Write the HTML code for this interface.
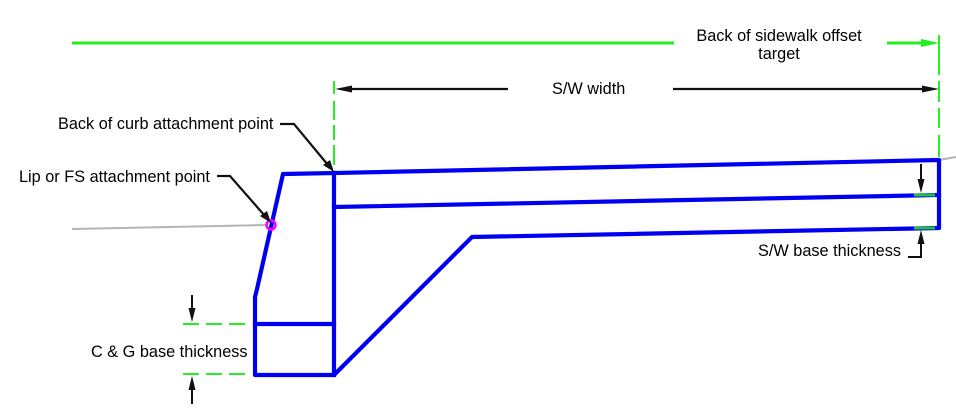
<!DOCTYPE html>
<html><head><meta charset="utf-8"><style>
html,body{margin:0;padding:0;background:#fff;}
svg{display:block;}
text{font-family:"Liberation Sans",Arial,sans-serif;font-size:16.3px;fill:#000;}
</style></head><body>
<svg width="956" height="411" viewBox="0 0 956 411" xmlns="http://www.w3.org/2000/svg">
<rect width="956" height="411" fill="#fff"/>
<!-- gray ground lines -->
<line x1="72" y1="229" x2="268" y2="225" stroke="#b4b4b4" stroke-width="2"/>
<line x1="939" y1="160" x2="956" y2="157" stroke="#b4b4b4" stroke-width="2"/>

<!-- green top dim line -->
<line x1="72" y1="43" x2="674" y2="43" stroke="#22f022" stroke-width="3"/>
<line x1="887" y1="43" x2="925" y2="43" stroke="#22f022" stroke-width="3"/>
<polygon points="921,39 939,43 921,47" fill="#22f022"/>
<!-- green dashed verticals -->
<line x1="939" y1="35" x2="939" y2="158" stroke="#22f022" stroke-width="2" stroke-dasharray="40,6,21,6,20,7,22,6"/>
<line x1="334" y1="81" x2="334" y2="170" stroke="#22f022" stroke-width="2" stroke-dasharray="13,7,19,5,15,5,20"/>

<!-- S/W width dimension -->
<line x1="345" y1="89" x2="508" y2="89" stroke="#111" stroke-width="2.2"/>
<polygon points="335,89 352,85.5 352,92.5" fill="#111"/>
<line x1="673" y1="89" x2="928" y2="89" stroke="#111" stroke-width="2.2"/>
<polygon points="939,89 922,85.5 922,92.5" fill="#111"/>
<text x="552" y="94">S/W width</text>

<text x="779" y="41" text-anchor="middle">Back of sidewalk offset</text>
<text x="779" y="59" text-anchor="middle">target</text>

<!-- blue shape -->
<g stroke="#0000f0" stroke-width="4.2" fill="none" stroke-linejoin="round" stroke-linecap="square">
<polyline points="334,173 283,174 257,289 255,297 255,375 334,375 472,237 939,228 939,160 334,173"/>
<line x1="334" y1="173" x2="334" y2="375"/>
<line x1="255" y1="324" x2="334" y2="324"/>
<line x1="334" y1="207" x2="939" y2="195"/>
</g>
<!-- green small ticks on right -->
<line x1="914" y1="195" x2="935" y2="195" stroke="#20c040" stroke-width="3"/>
<line x1="914" y1="228" x2="935" y2="228" stroke="#20c040" stroke-width="3"/>

<!-- magenta circle -->
<circle cx="271" cy="225" r="4.5" fill="none" stroke="#ff00ff" stroke-width="2.5"/>

<!-- Back of curb leader -->
<text x="58" y="129">Back of curb attachment point</text>
<polyline points="280,124 294,124 328,165" stroke="#111" stroke-width="2.2" fill="none"/>
<polygon points="334,172 323,165 330,160" fill="#111"/>

<!-- Lip leader -->
<text x="19" y="182">Lip or FS attachment point</text>
<polyline points="217,176 230,176 265,216" stroke="#111" stroke-width="2.2" fill="none"/>
<polygon points="271,223 260,216 267,211" fill="#111"/>

<!-- C & G base thickness -->
<line x1="183" y1="324" x2="252" y2="324" stroke="#22f022" stroke-width="2" stroke-dasharray="16,7"/>
<line x1="183" y1="374" x2="252" y2="374" stroke="#22f022" stroke-width="2" stroke-dasharray="16,7"/>
<line x1="192" y1="295" x2="192" y2="312" stroke="#111" stroke-width="2"/>
<polygon points="192,322 188.5,308 195.5,308" fill="#111"/>
<line x1="192" y1="388" x2="192" y2="404" stroke="#111" stroke-width="2"/>
<polygon points="192,376 188.5,390 195.5,390" fill="#111"/>
<text x="91" y="357">C &amp; G base thickness</text>

<!-- S/W base thickness -->
<line x1="921" y1="164" x2="921" y2="182" stroke="#111" stroke-width="2"/>
<polygon points="921,193 917.5,179 924.5,179" fill="#111"/>
<polyline points="908,257 921,257 921,240" stroke="#111" stroke-width="2" fill="none"/>
<polygon points="921,230 917.5,244 924.5,244" fill="#111"/>
<text x="758" y="256">S/W base thickness</text>
</svg>
</body></html>
